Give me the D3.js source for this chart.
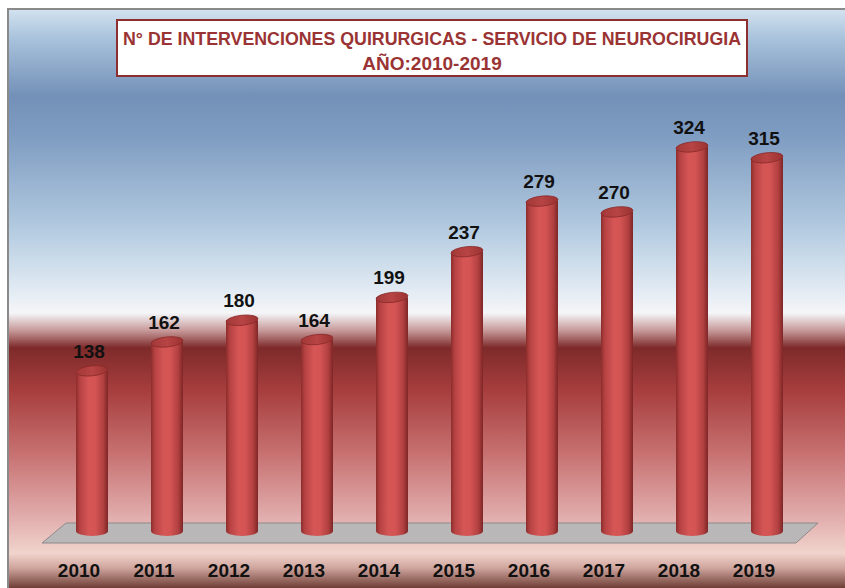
<!DOCTYPE html>
<html>
<head>
<meta charset="utf-8">
<script src="https://cdn.jsdelivr.net/npm/d3@7"></script>
<style>
  body { margin: 0; background: #fff; }
  svg { display: block; }
</style>
</head>
<body>
<script>
// data of the chart
var years = ["2010","2011","2012","2013","2014","2015","2016","2017","2018","2019"];
var cirugias = [138, 162, 180, 164, 199, 237, 279, 270, 324, 315];
var titulo1 = "N° DE INTERVENCIONES QUIRURGICAS - SERVICIO DE NEUROCIRUGIA";
var titulo2 = "AÑO:2010-2019";

var W = 845, H = 588;
var baseY = 531;      // centre of the bottom ellipse
var barW = 32, ry = 5;

var x = d3.scalePoint().domain(years).range([92, 767]);
var y = d3.scaleLinear().domain([0, 350]).range([537, 537 - 350 * 1.204]);

var svg = d3.select("body").append("svg")
  .attr("width", W)
  .attr("height", H);

var defs = svg.append("defs");

// background gradient (blue sky over a dark red band)
var bg = defs.append("linearGradient")
  .attr("id", "bg").attr("x1", 0).attr("y1", 0).attr("x2", 0).attr("y2", 1);
[[0, "#d3e2ef"], [0.05, "#a9c3dc"], [0.15, "#7390b8"], [0.22, "#7f9cc2"],
 [0.38, "#b3cbe0"], [0.49, "#e4ecf4"], [0.525, "#f4f6f8"], [0.555, "#c89a9a"],
 [0.585, "#7e2a2a"], [0.66, "#a83e3e"], [0.77, "#c87272"], [0.88, "#e2aeae"],
 [0.94, "#f0d4cc"], [0.965, "#d0a69e"], [1, "#6e3e36"]]
  .forEach(function(s) {
    bg.append("stop").attr("offset", s[0]).attr("stop-color", s[1]);
  });

// cylinder side shading
var cyl = defs.append("linearGradient")
  .attr("id", "cyl").attr("x1", 0).attr("y1", 0).attr("x2", 1).attr("y2", 0);
[[0, "#8c2c2c"], [0.12, "#b64242"], [0.4, "#d65656"], [0.6, "#d45454"],
 [0.85, "#b24040"], [1, "#7e2626"]]
  .forEach(function(s) {
    cyl.append("stop").attr("offset", s[0]).attr("stop-color", s[1]);
  });

var tapa = defs.append("linearGradient")
  .attr("id", "cyltop").attr("x1", 0).attr("y1", 0).attr("x2", 1).attr("y2", 0);
[[0, "#a23838"], [0.5, "#b84444"], [1, "#9a3232"]]
  .forEach(function(s) {
    tapa.append("stop").attr("offset", s[0]).attr("stop-color", s[1]);
  });

svg.append("rect")
  .attr("x", 8).attr("y", 9)
  .attr("width", W - 8).attr("height", H - 9)
  .attr("fill", "url(#bg)");

// gray frame on left and top
svg.append("path")
  .attr("d", "M8," + H + "V9H" + W)
  .attr("fill", "none")
  .attr("stroke", "#8a8a8a")
  .attr("stroke-width", 2);

// title box
svg.append("rect")
  .attr("x", 117).attr("y", 20)
  .attr("width", 630).attr("height", 56)
  .attr("fill", "#fff")
  .attr("stroke", "#8e2f2f")
  .attr("stroke-width", 2);

svg.append("text")
  .attr("x", 432).attr("y", 45)
  .attr("text-anchor", "middle")
  .attr("font-family", "Liberation Sans Narrow, Arial Narrow, sans-serif")
  .attr("font-weight", "bold")
  .attr("font-size", 19)
  .attr("fill", "#9a3434")
  .attr("textLength", 618)
  .attr("lengthAdjust", "spacingAndGlyphs")
  .text(titulo1);

svg.append("text")
  .attr("x", 432).attr("y", 70)
  .attr("text-anchor", "middle")
  .attr("font-family", "Liberation Sans Narrow, Arial Narrow, sans-serif")
  .attr("font-weight", "bold")
  .attr("font-size", 19)
  .attr("fill", "#9a3434")
  .text(titulo2);

// floor
svg.append("path")
  .attr("d", "M42,543L66,523L818,523L796,543Z")
  .attr("fill", "#b9b7b7")
  .attr("stroke", "#8e8a8a")
  .attr("stroke-width", 1);

// cylinders
var bars = svg.append("g").selectAll("g")
  .data(years)
  .enter().append("g");

bars.append("ellipse")
  .attr("cx", function(d) { return x(d); })
  .attr("cy", baseY)
  .attr("rx", barW / 2)
  .attr("ry", ry)
  .attr("fill", "url(#cyl)");

bars.append("rect")
  .attr("x", function(d) { return x(d) - barW / 2; })
  .attr("y", function(d, i) { return y(cirugias[i]); })
  .attr("width", barW)
  .attr("height", function(d, i) { return baseY - y(cirugias[i]); })
  .attr("fill", "url(#cyl)");

bars.append("ellipse")
  .attr("cx", function(d) { return x(d); })
  .attr("cy", function(d, i) { return y(cirugias[i]); })
  .attr("rx", barW / 2)
  .attr("ry", ry)
  .attr("transform", function(d, i) {
    return "rotate(-6," + x(d) + "," + y(cirugias[i]) + ")";
  })
  .attr("fill", "url(#cyltop)")
  .attr("stroke", "#8a2a2a")
  .attr("stroke-width", 0.8);

// value labels
bars.append("text")
  .attr("x", function(d) { return x(d) - 3; })
  .attr("y", function(d, i) { return y(cirugias[i]) - 13; })
  .attr("text-anchor", "middle")
  .attr("font-family", "Liberation Sans, Arial, sans-serif")
  .attr("font-weight", "bold")
  .attr("font-size", 19)
  .attr("fill", "#111")
  .text(function(d, i) { return cirugias[i]; });

// year labels
svg.append("g").selectAll("text")
  .data(years)
  .enter().append("text")
  .attr("x", function(d) { return x(d) - 13; })
  .attr("y", 577)
  .attr("text-anchor", "middle")
  .attr("font-family", "Liberation Sans, Arial, sans-serif")
  .attr("font-weight", "bold")
  .attr("font-size", 19)
  .attr("fill", "#111")
  .text(function(d) { return d; });
</script>
</body>
</html>
